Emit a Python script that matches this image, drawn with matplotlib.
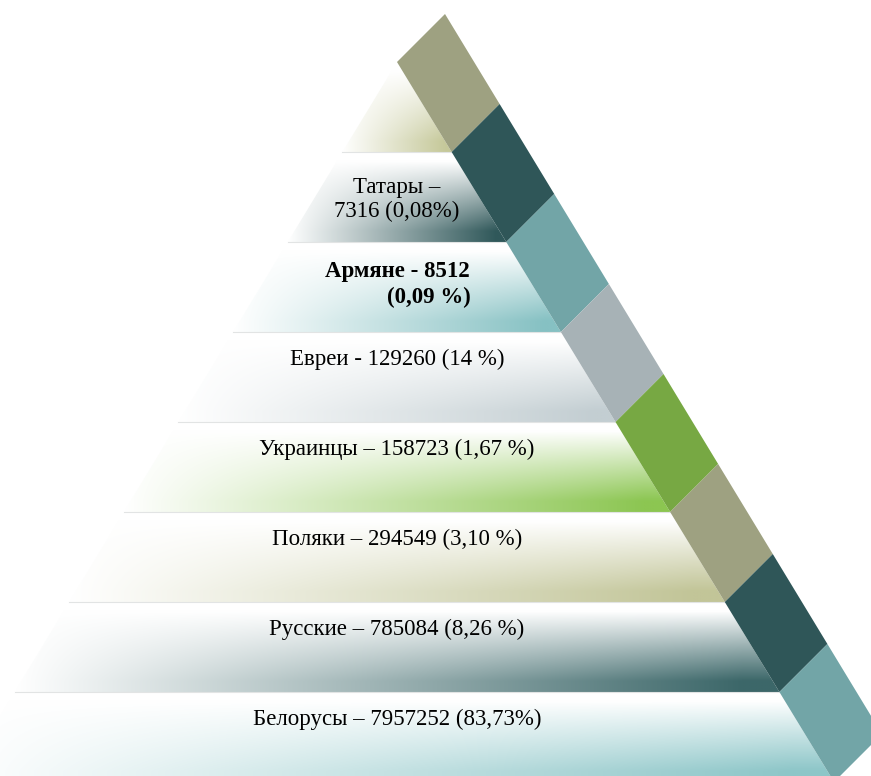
import numpy as np
import matplotlib.pyplot as plt
from matplotlib.patches import Polygon
from matplotlib.colors import to_rgb

# pyramid layers, top to bottom (top layer has no label)
groups = ['', 'Татары', 'Армяне', 'Евреи', 'Украинцы', 'Поляки', 'Русские', 'Белорусы']
counts = [None, 7316, 8512, 129260, 158723, 294549, 785084, 7957252]
shares = ['', '0,08%', '0,09 %', '14 %', '1,67 %', '3,10 %', '8,26 %', '83,73%']
dashes = ['', '–', '-', '-', '–', '–', '–', '–']

layer_colors = ['#C5C899', '#30585A', '#86C1C3', '#C3CED2',
                '#8CC652', '#C2C598', '#3C6769', '#8DC6C8']
strip_colors = ['#9EA181', '#2F5658', '#72A5A7', '#A7B2B6',
                '#77A843', '#9EA181', '#2F5658', '#72A5A7']

W, H = 871, 776
apex_x, apex_y = 397, 62
layer_h = 90
slope = 0.607
band = 48

fig = plt.figure(figsize=(W / 100, H / 100), dpi=100)
ax = fig.add_axes([0, 0, 1, 1])


def xr(y):
    return apex_x + slope * (y - apex_y)


def xl(y):
    return apex_x - slope * (y - apex_y)


for i, col in enumerate(layer_colors):
    y0 = apex_y + i * layer_h
    y1 = y0 + layer_h
    poly = [(xl(y0), y0), (xr(y0), y0), (xr(y1), y1), (xl(y1), y1)]
    xs = np.linspace(xl(y1), xr(y1), 400)
    ys = np.linspace(y0, y1, 120)
    X, Y = np.meshgrid(xs, ys)
    u = (X - xl(y1)) / (xr(y1) - xl(y1))
    v = (Y - y0) / layer_h
    vv = np.clip((v - 0.1) / 0.78, 0, 1) ** 0.95
    t = vv * np.clip(u * 1.05, 0, 1)
    rgb = 1 - t[..., None] * (1 - np.array(to_rgb(col)))
    patch = Polygon(poly, closed=True, fc='none', ec='none')
    ax.add_patch(patch)
    im = ax.imshow(rgb, extent=(xl(y1), xr(y1), y1, y0), origin='upper',
                   interpolation='bilinear', aspect='auto', zorder=1)
    im.set_clip_path(patch)
    if i > 0:
        ax.plot([xl(y0), xr(y0)], [y0, y0], color='#E2E4E4', lw=0.8, zorder=1.5)

    # diagonal strip block
    blk = [(xr(y0), y0), (xr(y1), y1), (xr(y1) + band, y1 - band), (xr(y0) + band, y0 - band)]
    ax.add_patch(Polygon(blk, closed=True, fc=strip_colors[i], ec='none', zorder=2))

font = dict(family='Liberation Serif', fontsize=16.5, color='black', zorder=3)
for i in range(1, len(groups)):
    y0 = apex_y + i * layer_h
    if i == 1:
        ax.text(apex_x, y0 + 35, f'{groups[i]} {dashes[i]}', ha='center', va='center', **font)
        ax.text(apex_x, y0 + 59, f'{counts[i]} ({shares[i]})', ha='center', va='center', **font)
    elif i == 2:
        ax.text(apex_x, y0 + 29, f'{groups[i]} {dashes[i]} {counts[i]}', ha='center',
                va='center', fontweight='bold', **font)
        ax.text(471, y0 + 55, f'({shares[i]})', ha='right', va='center',
                fontweight='bold', **font)
    else:
        ax.text(apex_x, y0 + 27, f'{groups[i]} {dashes[i]} {counts[i]} ({shares[i]})',
                ha='center', va='center', **font)

ax.set_xlim(0, W)
ax.set_ylim(H, 0)
ax.axis('off')
fig.savefig('out.png', dpi=100)
